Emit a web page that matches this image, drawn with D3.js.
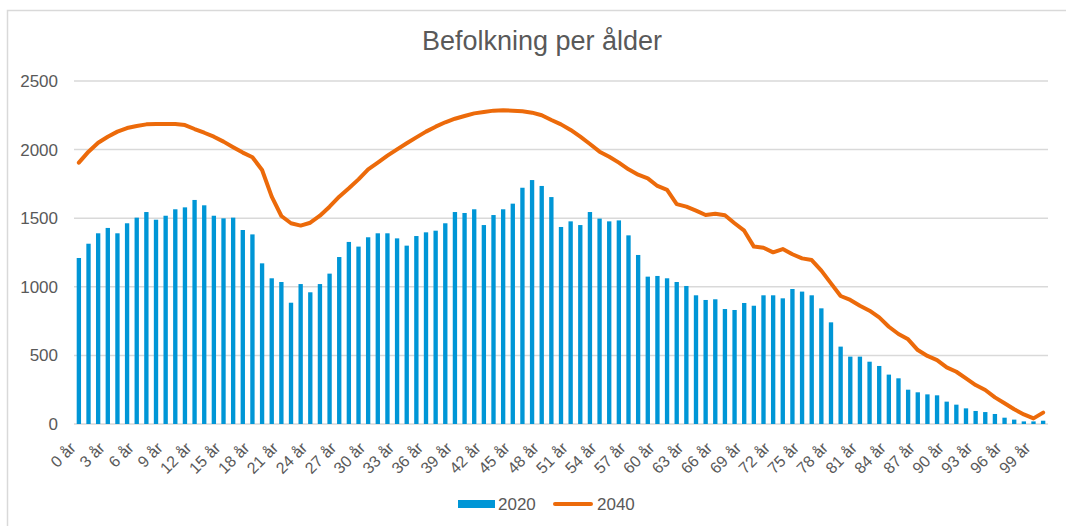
<!DOCTYPE html>
<html>
<head>
<meta charset="utf-8">
<script src="https://cdn.jsdelivr.net/npm/d3@7"></script>
<style>
  body { margin: 0; background: #fff; }
  text { font-family: "Liberation Sans", Arial, sans-serif; fill: #595959; }
</style>
</head>
<body>
<div class="chart"></div>
<script>
// ages 0..100
var ages = d3.range(0, 101);
var tickAges = d3.range(0, 100, 3);

var pop2020 = [1210,1314,1390,1429,1390,1463,1504,1545,1489,1518,
  1565,1579,1633,1594,1518,1499,1504,1414,1382,1171,
  1062,1035,884,1020,960,1020,1096,1217,1327,1293,
  1361,1390,1390,1353,1300,1370,1397,1409,1463,1545,
  1538,1565,1450,1523,1565,1606,1722,1778,1735,1654,
  1436,1477,1450,1545,1497,1477,1484,1375,1232,1074,
  1079,1062,1035,1006,938,904,909,838,831,882,
  862,938,938,916,984,965,938,843,741,564,
  491,491,454,423,360,333,250,231,216,209,
  163,141,114,95,87,73,46,32,19,19,24];

var pop2040 = [1905,1985,2050,2094,2131,2157,2172,2184,2187,2187,
  2187,2179,2150,2123,2094,2058,2017,1978,1944,1851,
  1657,1516,1463,1446,1467,1518,1584,1657,1718,1783,
  1856,1905,1956,2002,2046,2089,2131,2167,2199,2225,
  2245,2264,2274,2284,2286,2284,2279,2269,2250,2216,
  2184,2143,2094,2041,1985,1948,1905,1856,1817,1790,
  1735,1706,1603,1584,1555,1523,1533,1521,1463,1409,
  1293,1285,1251,1275,1237,1207,1195,1118,1025,933,
  904,862,826,777,709,656,617,539,496,466,
  413,381,333,284,248,194,151,107,70,41,83];

var yTicks = [0, 500, 1000, 1500, 2000, 2500];

var svgWidth = 1066;
var svgHeight = 526;
var margin = { top: 81, right: 18, bottom: 102, left: 74 };
var width = svgWidth - margin.left - margin.right;
var height = svgHeight - margin.top - margin.bottom;

var svg = d3.select(".chart")
  .append("svg")
  .attr("width", svgWidth)
  .attr("height", svgHeight);

// outer chart border
svg.append("rect")
  .attr("x", 7.5)
  .attr("y", 10.5)
  .attr("width", 1100)
  .attr("height", 600)
  .attr("fill", "none")
  .attr("stroke", "#d9d9d9")
  .attr("stroke-width", 1.5);

svg.append("text")
  .attr("x", 542)
  .attr("y", 50)
  .attr("text-anchor", "middle")
  .style("font-size", "27px")
  .text("Befolkning per ålder");

var chartGroup = svg.append("g")
  .attr("transform", `translate(${margin.left}, ${margin.top})`);

var xBandScale = d3.scaleBand()
  .domain(ages)
  .range([0, width])
  .paddingInner(0.55)
  .paddingOuter(0.28);

var yLinearScale = d3.scaleLinear()
  .domain([0, 2500])
  .range([height, 0]);

// gridlines
chartGroup.selectAll(".grid")
  .data(yTicks)
  .enter()
  .append("line")
  .attr("x1", 0)
  .attr("x2", width)
  .attr("y1", d => yLinearScale(d))
  .attr("y2", d => yLinearScale(d))
  .attr("stroke", "#d9d9d9")
  .attr("stroke-width", 1.5);

// y labels
var leftAxis = d3.axisLeft(yLinearScale)
  .tickValues(yTicks)
  .tickFormat(d3.format("d"))
  .tickSize(0)
  .tickPadding(16);
var yAxis = chartGroup.append("g").call(leftAxis);
yAxis.select(".domain").remove();
yAxis.selectAll("text")
  .style("font-size", "17px")
  .attr("fill", "#595959")
  .style("font-family", "Liberation Sans, Arial, sans-serif");

// bars 2020
chartGroup.selectAll(".bar")
  .data(pop2020)
  .enter()
  .append("rect")
  .attr("x", (d, i) => xBandScale(ages[i]))
  .attr("y", d => yLinearScale(d))
  .attr("width", xBandScale.bandwidth())
  .attr("height", d => height - yLinearScale(d))
  .attr("fill", "#0096d6");

// line 2040
var line = d3.line()
  .x((d, i) => xBandScale(ages[i]) + xBandScale.bandwidth() / 2)
  .y(d => yLinearScale(d));

chartGroup.append("path")
  .datum(pop2040)
  .attr("d", line)
  .attr("fill", "none")
  .attr("stroke", "#ec6a0a")
  .attr("stroke-width", 4)
  .attr("stroke-linejoin", "round")
  .attr("stroke-linecap", "round");

// x labels
var bottomAxis = d3.axisBottom(xBandScale)
  .tickValues(tickAges)
  .tickSize(0)
  .tickFormat(d => d + " år");
var xAxis = chartGroup.append("g")
  .attr("transform", `translate(0, ${height})`)
  .call(bottomAxis);
xAxis.select(".domain").remove();
xAxis.selectAll("text")
  .style("font-size", "16px")
  .attr("fill", "#595959")
  .style("font-family", "Liberation Sans, Arial, sans-serif")
  .attr("text-anchor", "end")
  .attr("y", 0)
  .attr("dy", 0)
  .attr("transform", "translate(-2, 25) rotate(-45)");

// legend
var legend = svg.append("g");
legend.append("rect")
  .attr("x", 458).attr("y", 500)
  .attr("width", 37).attr("height", 8)
  .attr("fill", "#0096d6");
legend.append("text")
  .attr("x", 498).attr("y", 510)
  .style("font-size", "17px")
  .text("2020");
legend.append("line")
  .attr("x1", 555).attr("x2", 591)
  .attr("y1", 504).attr("y2", 504)
  .attr("stroke", "#ec6a0a")
  .attr("stroke-width", 4)
  .attr("stroke-linecap", "round");
legend.append("text")
  .attr("x", 597).attr("y", 510)
  .style("font-size", "17px")
  .text("2040");
</script>
</body>
</html>
